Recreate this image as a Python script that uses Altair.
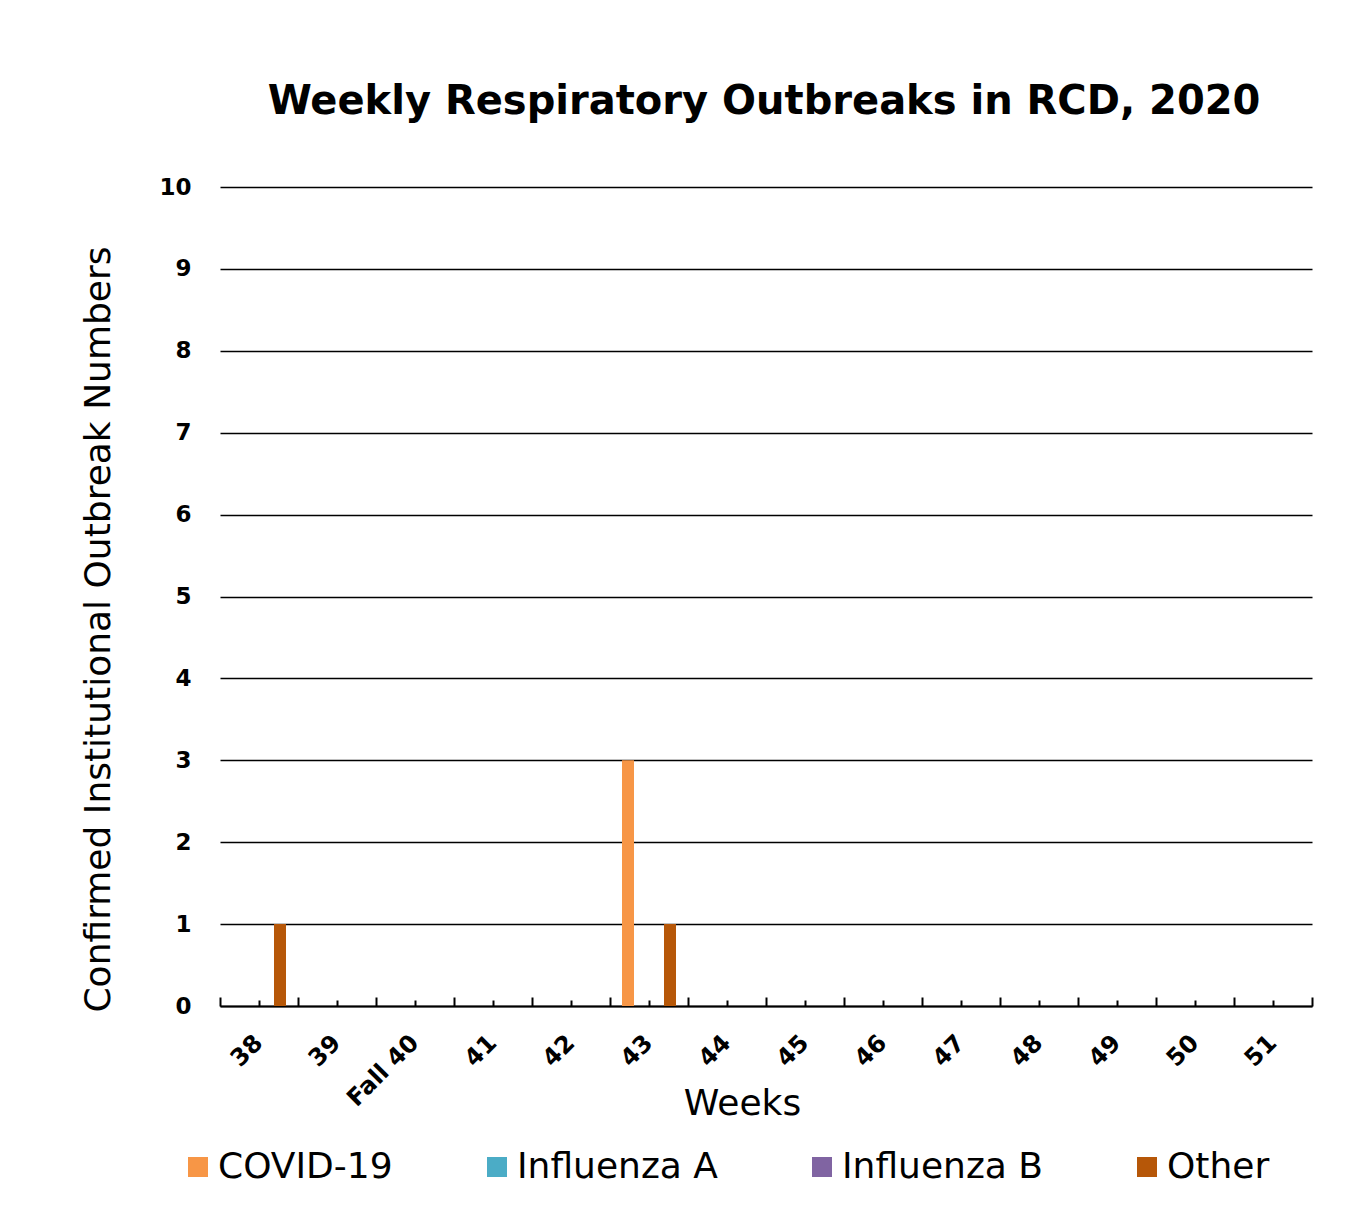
import altair as alt
import pandas as pd

weeks = ["38", "39", "Fall 40", "41", "42", "43", "44", "45", "46", "47", "48", "49", "50", "51"]
series = ["COVID-19", "Influenza A", "Influenza B", "Other"]
covid = [0, 0, 0, 0, 0, 3, 0, 0, 0, 0, 0, 0, 0, 0]
flu_a = [0, 0, 0, 0, 0, 0, 0, 0, 0, 0, 0, 0, 0, 0]
flu_b = [0, 0, 0, 0, 0, 0, 0, 0, 0, 0, 0, 0, 0, 0]
other = [1, 0, 0, 0, 0, 1, 0, 0, 0, 0, 0, 0, 0, 0]
colors = ["#F79646", "#4BACC6", "#8064A2", "#B65708"]
y_ticks = [0, 1, 2, 3, 4, 5, 6, 7, 8, 9, 10]

rows = []
for s, vals in zip(series, [covid, flu_a, flu_b, other]):
    for w, v in zip(weeks, vals):
        rows.append({"week": w, "series": s, "value": v})
df = pd.DataFrame(rows)

FONT = "DejaVu Sans"
W, H = 1092, 819

xscale = alt.Scale(domain=weeks, paddingInner=0, paddingOuter=0)

bars = alt.Chart(df).mark_bar().encode(
    x=alt.X(
        "week:N",
        scale=xscale,
        axis=alt.Axis(
            title="Weeks", orient="bottom", ticks=False, tickSize=0,
            domain=True, domainColor="black", domainWidth=2, grid=False,
            labelAngle=315, labelAlign="right", labelBaseline="middle", labelPadding=33,
            labelFont=FONT, labelFontSize=24, labelFontWeight="bold", labelColor="black",
            titleFont=FONT, titleFontSize=36, titleFontWeight="normal", titleColor="black",
            titleX=522, titleY=97, titleAlign="center", titleBaseline="middle",
        ),
    ),
    xOffset=alt.XOffset("series:N", scale=alt.Scale(domain=series, paddingInner=0.143, paddingOuter=0.857)),
    y=alt.Y(
        "value:Q",
        scale=alt.Scale(domain=[0, 10]),
        axis=alt.Axis(
            title="Confirmed Institutional Outbreak Numbers", values=y_ticks,
            domain=False, ticks=False, tickSize=0, labelPadding=29,
            grid=True, gridColor="black", gridWidth=1.5, gridOpacity=1,
            labelFont=FONT, labelFontSize=23, labelFontWeight="bold", labelColor="black",
            titleFont=FONT, titleFontSize=36, titleFontWeight="normal", titleColor="black",
            titleX=-122, titleY=442, titleAngle=270, titleAlign="center", titleBaseline="middle",
        ),
    ),
    color=alt.Color(
        "series:N",
        scale=alt.Scale(domain=series, range=colors),
        legend=alt.Legend(
            title=None, orient="none", legendX=-40, legendY=962, direction="horizontal",
            columns=4, gridAlign="none", symbolType="square", symbolSize=400, symbolStrokeWidth=0,
            labelFont=FONT, labelFontSize=36, labelColor="black", labelOffset=2, labelLimit=600,
            columnPadding=86,
        ),
    ),
)

major = alt.Chart(df).mark_rule(opacity=0).encode(
    x=alt.X(
        "week:N", scale=xscale,
        axis=alt.Axis(orient="top", offset=-H, labels=False, domain=False, grid=False, title=None,
                      ticks=True, tickBand="extent", tickSize=9, tickWidth=2, tickColor="black"),
    )
)
minor = alt.Chart(df).mark_rule(opacity=0).encode(
    x=alt.X(
        "week:N", scale=xscale,
        axis=alt.Axis(orient="top", offset=-H, labels=False, domain=False, grid=False, title=None,
                      ticks=True, tickBand="center", tickSize=6, tickWidth=2, tickColor="black"),
    )
)

chart = alt.layer(bars, major, minor).resolve_axis(x="independent").properties(
    width=W, height=H,
    background="white",
    autosize=alt.AutoSizeParams(type="none"),
    padding={"left": 212, "top": 179, "right": 31, "bottom": 190},
    title=alt.TitleParams(
        text="Weekly Respiratory Outbreaks in RCD, 2020", font=FONT, fontSize=40, fontWeight="bold",
        color="black", anchor="middle", frame="group", baseline="alphabetic", offset=22, dx=-2,
    ),
).configure_view(strokeWidth=0, stroke="transparent")

chart.save("out.html", embed_options={"renderer": "svg", "actions": False})
